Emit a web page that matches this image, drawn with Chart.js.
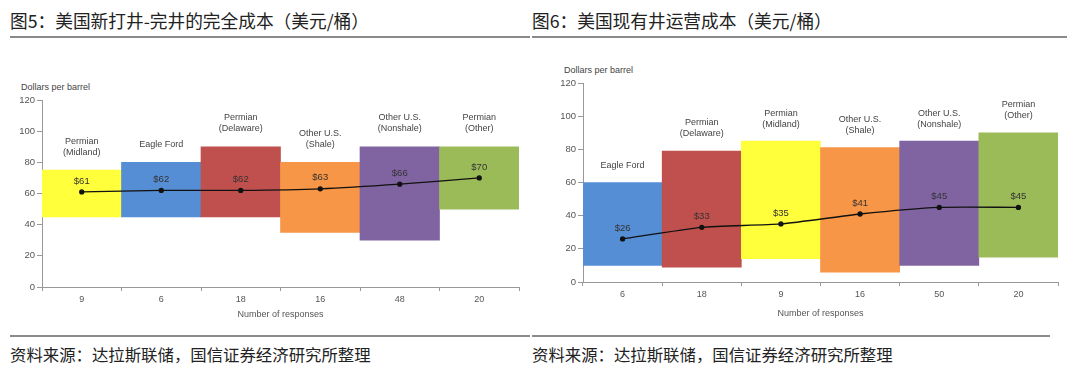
<!DOCTYPE html>
<html>
<head>
<meta charset="utf-8">
<script src="https://cdn.jsdelivr.net/npm/chart.js@4.4.1/dist/chart.umd.min.js"></script>
<style>
  body { margin: 0; width: 1080px; height: 371px; background: #fff; position: relative; overflow: hidden; font-family: "Noto Sans CJK SC", sans-serif; }
  .title { position: absolute; top: 8px; font-size: 17.7px; color: #222; line-height: 24px; }
  .rule { position: absolute; height: 0; border-top: 2px solid #8a8a8a; }
  .src { position: absolute; top: 342px; font-size: 16.4px; color: #222; line-height: 24px; }
  .unit { position: absolute; font-family: "Liberation Sans", Arial, sans-serif; font-size: 9px; color: #444; }
  .box { position: absolute; }
</style>
</head>
<body>
<div class="title" style="left:10px">图5：美国新打井-完井的完全成本（美元/桶）</div>
<div class="title" style="left:532px">图6：美国现有井运营成本（美元/桶）</div>
<div class="rule" style="left:10px; top:36px; width:520px"></div>
<div class="rule" style="left:532px; top:36px; width:535px"></div>

<div class="unit" style="left:21px; top:82px">Dollars per barrel</div>
<div class="unit" style="left:564px; top:65px">Dollars per barrel</div>

<div class="box" style="left:0; top:60px; width:530px; height:275px"><canvas id="c1"></canvas></div>
<div class="box" style="left:540px; top:55px; width:540px; height:280px"><canvas id="c2"></canvas></div>

<div class="rule" style="left:10px; top:335px; width:520px"></div>
<div class="rule" style="left:532px; top:335px; width:518px"></div>
<div class="src" style="left:10px">资料来源：达拉斯联储，国信证券经济研究所整理</div>
<div class="src" style="left:532px">资料来源：达拉斯联储，国信证券经济研究所整理</div>

<script>
// 图5 新打井完全成本
const regions1 = [["Permian", "(Midland)"], ["Eagle Ford"], ["Permian", "(Delaware)"], ["Other U.S.", "(Shale)"], ["Other U.S.", "(Nonshale)"], ["Permian", "(Other)"]];
const responses1 = ["9", "6", "18", "16", "48", "20"];
const low1 = [45, 45, 45, 35, 30, 50];
const high1 = [75, 80, 90, 80, 90, 90];
const avg1 = [61, 62, 62, 63, 66, 70];
const colors1 = ["#FFFF3C", "#558ED5", "#C0504D", "#F79646", "#8064A2", "#9BBB59"];

// 图6 现有井运营成本
const regions2 = [["Eagle Ford"], ["Permian", "(Delaware)"], ["Permian", "(Midland)"], ["Other U.S.", "(Shale)"], ["Other U.S.", "(Nonshale)"], ["Permian", "(Other)"]];
const responses2 = ["6", "18", "9", "16", "50", "20"];
const low2 = [10, 9, 14, 6, 10, 15];
const high2 = [60, 79, 85, 81, 85, 90];
const avg2 = [26, 33, 35, 41, 45, 45];
const colors2 = ["#558ED5", "#C0504D", "#FFFF3C", "#F79646", "#8064A2", "#9BBB59"];

const yTicks = [0, 20, 40, 60, 80, 100, 120];

const labelsPlugin = {
  id: "labelsPlugin",
  afterDatasetsDraw(chart, args, opts) {
    const ctx = chart.ctx;
    ctx.save();
    ctx.font = "9px 'Liberation Sans', Arial, sans-serif";
    ctx.fillStyle = "#444";
    ctx.textAlign = "center";
    ctx.textBaseline = "middle";
    // region names above each bar
    chart.getDatasetMeta(1).data.forEach((bar, i) => {
      const lines = opts.regions[i];
      const top = bar.y - opts.gap - (lines.length - 1) * 11;
      lines.forEach((t, k) => ctx.fillText(t, bar.x, top + k * 11));
    });
    // $ values above the average points
    ctx.font = "9.5px 'Liberation Sans', Arial, sans-serif";
    ctx.fillStyle = "#333";
    chart.getDatasetMeta(0).data.forEach((pt, i) => {
      ctx.fillText("$" + opts.avg[i], pt.x, pt.y - 11);
    });
    ctx.restore();
  }
};

function makeChart(id, responses, low, high, avg, colors, regions, pad, yw, xh, gap) {
  new Chart(document.getElementById(id), {
    type: "bar",
    data: {
      labels: responses,
      datasets: [
        {
          type: "line",
          data: avg,
          borderColor: "#111",
          backgroundColor: "#111",
          borderWidth: 1.3,
          pointRadius: 2,
          tension: 0.2,
          order: 0
        },
        {
          data: low.map((v, i) => [v, high[i]]),
          backgroundColor: colors,
          borderWidth: 0,
          barPercentage: 1,
          categoryPercentage: 1,
          order: 1
        }
      ]
    },
    options: {
      responsive: true,
      maintainAspectRatio: false,
      animation: false,
      layout: { padding: pad },
      plugins: {
        legend: { display: false },
        tooltip: { enabled: false },
        labelsPlugin: { regions: regions, avg: avg, gap: gap }
      },
      scales: {
        x: {
          grid: { offset: true, drawOnChartArea: false, tickLength: 4, color: "#999" },
          border: { color: "#999" },
          ticks: { color: "#555", font: { size: 9, family: "'Liberation Sans', Arial" }, padding: 3 },
          title: { display: true, text: "Number of responses", color: "#555", font: { size: 9, family: "'Liberation Sans', Arial" }, padding: { top: 2 } },
          afterFit: s => { s.height = xh; }
        },
        y: {
          min: 0,
          max: 120,
          afterBuildTicks: s => { s.ticks = yTicks.map(v => ({ value: v })); },
          grid: { drawOnChartArea: false, tickLength: 5, color: "#999" },
          border: { color: "#999" },
          ticks: { color: "#555", font: { size: 9.5, family: "'Liberation Sans', Arial" }, padding: 2 },
          afterFit: s => { s.width = yw; }
        }
      }
    },
    plugins: [labelsPlugin]
  });
}

makeChart("c1", responses1, low1, high1, avg1, colors1, regions1, { top: 40, right: 11, left: 0, bottom: 11 }, 42, 37, 18);
makeChart("c2", responses2, low2, high2, avg2, colors2, regions2, { top: 28, right: 22, left: 0, bottom: 12 }, 43, 41, 17);
</script>
</body>
</html>
